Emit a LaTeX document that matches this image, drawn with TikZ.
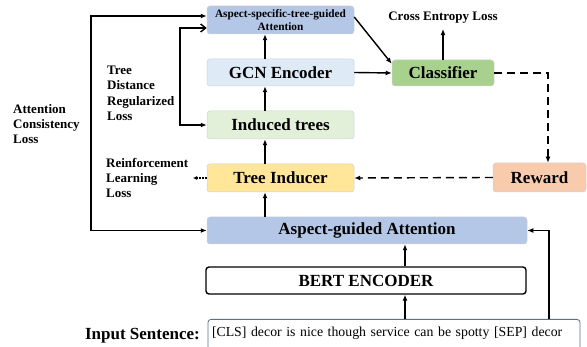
\documentclass[tikz,border=0pt]{standalone}
\usepackage{fontspec}
\setmainfont{Liberation Serif}
\usepackage{tikz}
\usetikzlibrary{arrows.meta}
\definecolor{attblue}{HTML}{B4C7E7}
\definecolor{gcnblue}{HTML}{DEEBF7}
\definecolor{clsgreen}{HTML}{A9D18E}
\definecolor{treegreen}{HTML}{E2F0D9}
\definecolor{indyellow}{HTML}{FFE699}
\definecolor{rwdorange}{HTML}{F8CBAD}
\definecolor{inpframe}{HTML}{5B6F86}

\begin{document}
\begin{tikzpicture}[x=1pt,y=-1pt]
\tikzstyle{box}=[draw=black!18,line width=0.5pt,rounded corners=3pt,minimum height=27pt,inner sep=0pt,font=\fontsize{17}{20}\selectfont\bfseries]
\tikzstyle{arr}=[line width=1.4pt,-{Latex[length=6pt,width=5pt]}]
\tikzstyle{arrs}=[line width=1.4pt,{Latex[length=6pt,width=5pt]}-{Latex[length=6pt,width=5pt]}]
\tikzstyle{dash arr}=[arr,dash pattern=on 8pt off 5pt]
\tikzstyle{dot arr}=[line width=1.2pt,dash pattern=on 1.5pt off 1.5pt,-{Latex[length=4pt,width=4pt]}]
\tikzstyle{loss}=[align=left,inner sep=0pt,font=\fontsize{13}{15.2}\selectfont\bfseries]

\useasboundingbox (0,0) rectangle (587,347);
\clip (0,0) rectangle (587,347);

\node[box,fill=attblue,minimum width=147pt,minimum height=28pt,align=center,font=\fontsize{11.3}{13}\selectfont\bfseries] (asta) at (280.5,20) {Aspect-specific-tree-guided\\Attention};
\node[box,fill=gcnblue,minimum width=147pt] (gcn) at (280.5,72.5) {GCN Encoder};
\node[box,fill=clsgreen,minimum width=102pt,minimum height=26pt] (cls) at (443,73) {Classifier};
\node[box,fill=treegreen,minimum width=147pt,minimum height=28pt] (induced) at (280.5,125) {Induced trees};
\node[box,fill=indyellow,minimum width=147pt,minimum height=28pt] (inducer) at (280.5,178) {Tree Inducer};
\node[box,fill=rwdorange,minimum width=93pt,minimum height=29pt] (reward) at (539.5,177.5) {Reward};
\node[box,fill=attblue,minimum width=320pt] (aga) at (367,230.5) {Aspect-guided Attention};
\node[box,draw=black,line width=1.4pt,minimum width=320pt] (bert) at (366,280.5) {BERT ENCODER};
\node[box,draw=inpframe,line width=0.8pt,anchor=north,minimum width=372pt,inner ysep=7.5pt,text height=10pt,text depth=12pt,text width=364pt,align=left,font=\fontsize{13.8}{17}\selectfont] (input) at (394,319) {[CLS] decor is nice though service can be spotty [SEP] decor};

\node[anchor=base east,inner sep=0pt,font=\fontsize{17}{20}\selectfont\bfseries] (inlabel) at (200,340) {Input Sentence:};
\node[loss,anchor=base] (cel) at (443,21) {Cross Entropy Loss};
\node[loss,anchor=north west] (acl) at (13,104) {Attention\\Consistency\\Loss};
\node[loss,anchor=north west] (tdl) at (107,66) {Tree\\Distance\\Regularized\\Loss};
\node[loss,anchor=north west] (rll) at (106,158) {Reinforcement\\Learning\\Loss};

\coordinate (lx) at (91,0);
\coordinate (tx) at (180,0);
\coordinate (vx) at (265,0);
\coordinate (bx) at (405,0);
\coordinate (rx) at (549,0);
\coordinate (dx) at (548,0);
\coordinate (rlend) at (193,178);

\draw[arr] (aga.north -| vx) -- (inducer.south -| vx);
\draw[arr] (inducer.north -| vx) -- (induced.south -| vx);
\draw[arr] (induced.north -| vx) -- (gcn.south -| vx);
\draw[arr] (gcn.north -| vx) -- (asta.south -| vx);
\draw[arr] (input.north -| bx) -- (bert.south -| bx);
\draw[arr] (bert.north -| bx) -- (aga.south -| bx);
\draw[arr] (input.north -| rx) |- (aga.east);
\draw[arrs] ([yshift=4pt]asta.west) -| (lx |- aga.west) -- (aga.west);
\draw[line width=1.4pt,{Straight Barb[length=5pt,width=8pt]}-{Latex[length=6pt,width=5pt]}] ([yshift=-8pt]asta.west) -| (tx |- induced.west) -- (induced.west);
\draw[arr] ([yshift=3pt]asta.east) -- ([yshift=-4pt]cls.north west);
\draw[arr] (gcn.east) -- (cls.west);
\draw[arr] (cls.north) -- ([yshift=-5pt]cel.south);
\draw[dash arr] (cls.east) -| (dx |- reward.north);
\draw[dash arr] (reward.west) -- (inducer.east);
\draw[dot arr] (inducer.west) -- (rlend);
\end{tikzpicture}
\end{document}
